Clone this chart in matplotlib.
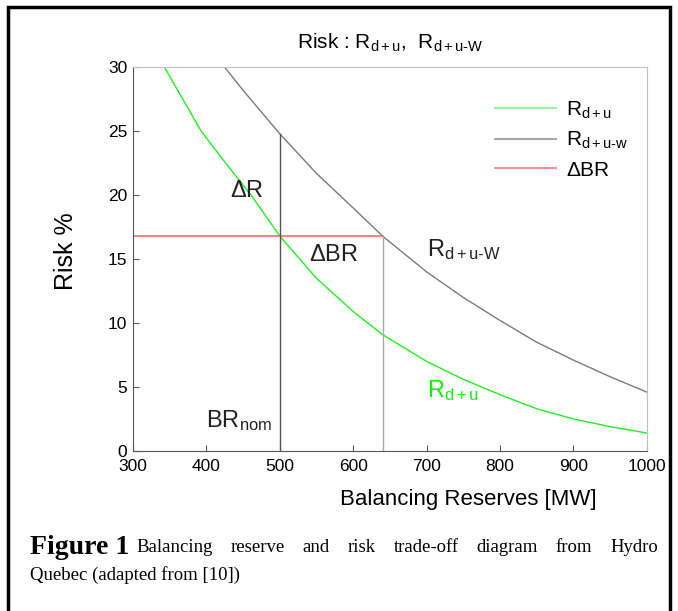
import numpy as np
import matplotlib
matplotlib.use('Agg')
import matplotlib.pyplot as plt
from matplotlib.patches import Rectangle
from matplotlib.lines import Line2D

plt.rcParams['font.family'] = 'Liberation Sans'
plt.rcParams['mathtext.fontset'] = 'custom'
plt.rcParams['mathtext.rm'] = 'Liberation Sans'
plt.rcParams['mathtext.it'] = 'Liberation Sans'

# values
rdu_x = [343, 393, 425, 461, 500, 550, 600, 640, 700, 750, 800, 850, 900, 950, 1000]
rdu_y = [30.0, 25.0, 22.6, 20.0, 16.8, 13.5, 10.9, 9.1, 7.0, 5.6, 4.4, 3.3, 2.5, 1.9, 1.4]

rduw_x = [425, 450, 475, 500, 550, 600, 640, 700, 750, 800, 850, 900, 950, 1000]
rduw_y = [30.0, 28.2, 26.5, 24.8, 21.7, 19.0, 16.8, 14.0, 12.0, 10.2, 8.5, 7.1, 5.8, 4.6]

br_nom = 500
br_new = 640
risk_level = 16.8
risk_w_at_nom = 24.8

xticks = [300, 400, 500, 600, 700, 800, 900, 1000]
yticks = [0, 5, 10, 15, 20, 25, 30]

fig = plt.figure(figsize=(6.78, 6.11), dpi=100)
ax = fig.add_axes([0.196, 0.262, 0.758, 0.628])

ax.plot(rdu_x, rdu_y, color='#22ee22', lw=1.0)
ax.plot(rduw_x, rduw_y, color='#7a7a7a', lw=1.0)
ax.plot([300, br_new], [risk_level, risk_level], color='#ff6a6a', lw=1.2)
ax.plot([br_nom, br_nom], [0, risk_w_at_nom], color='#555555', lw=1.0)
ax.plot([br_new, br_new], [0, risk_level], color='#aaaaaa', lw=1.0)

ax.set_xlim(300, 1000)
ax.set_ylim(0, 30)
ax.set_xticks(xticks)
ax.set_yticks(yticks)
ax.tick_params(direction='in', length=4, labelsize=12.5, top=False, right=False,
               color='#555555')
ax.tick_params(axis='x', pad=6)
ax.tick_params(axis='y', pad=4)
for s in ['left', 'bottom']:
    ax.spines[s].set_color('#555555')
for s in ['top', 'right']:
    ax.spines[s].set_color('#c0c0c0')

ax.set_xlabel('Balancing Reserves [MW]', fontsize=16)
ax.xaxis.set_label_coords(0.652, -0.10)
ax.set_ylabel('Risk %', fontsize=18)
ax.yaxis.set_label_coords(-0.107, 0.52)
ax.set_title(r'Risk : R$_{\rm d+u}$,  R$_{\rm d+u\text{-}W}$', fontsize=15, pad=13)

ax.text(455, 20.3, r'$\Delta$R', fontsize=17, color='#222222', ha='center', va='center')
ax.text(573, 15.3, r'$\Delta$BR', fontsize=17, color='#222222', ha='center', va='center')
ax.text(701, 15.2, r'R$_{\rm d+u\text{-}W}$', fontsize=17, color='#222222', ha='left', va='baseline')
ax.text(701, 4.2, r'R$_{\rm d+u}$', fontsize=17, color='#11ee11', ha='left', va='baseline')
ax.text(399, 1.9, r'BR$_{\rm nom}$', fontsize=17, color='#222222', ha='left', va='baseline')

handles = [Line2D([], [], color='#99f799', lw=1.5),
           Line2D([], [], color='#aaaaaa', lw=1.5),
           Line2D([], [], color='#ff8f8f', lw=1.5)]
labels = [r'R$_{\rm d+u}$', r'R$_{\rm d+u\text{-}w}$', r'$\Delta$BR']
ax.legend(handles, labels, loc='upper right', frameon=False, fontsize=15,
          handlelength=2.95, handletextpad=0.45, labelspacing=0.45,
          bbox_to_anchor=(1.0, 0.965))

# outer border (bottom edge runs off the picture)
fig.patches.append(Rectangle((0.012, -0.02), 0.976, 1.008, transform=fig.transFigure,
                             fill=False, lw=2.5, color='black'))

# caption, first line justified
renderer = fig.canvas.get_renderer()
y1 = 1 - 548 / 611
y2 = 1 - 575 / 611
t = fig.text(30 / 678, y1, 'Figure 1', fontsize=20, fontweight='bold',
             family='Liberation Serif', va='center')
words = 'Balancing reserve and risk trade-off diagram from Hydro'.split()
objs = [fig.text(0, y1, w, fontsize=13.5, family='Liberation Serif', va='center')
        for w in words]
widths = [o.get_window_extent(renderer).width for o in objs]
x0 = t.get_window_extent(renderer).x1 + 7
x_end = 658
gap = (x_end - x0 - sum(widths)) / (len(words) - 1)
x = x0
for o, w in zip(objs, widths):
    o.set_x(x / 678)
    x += w + gap
fig.text(30 / 678, y2, 'Quebec (adapted from [10])', fontsize=13.5,
         family='Liberation Serif', va='center')

fig.savefig('out.png', dpi=100)
